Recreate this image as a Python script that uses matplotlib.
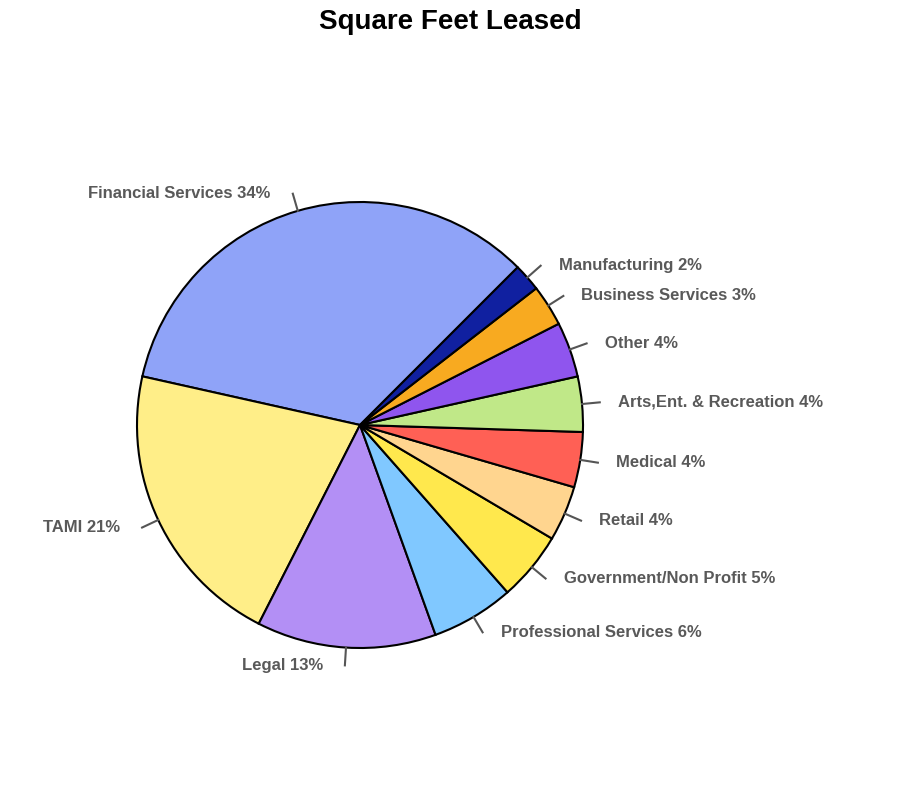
import numpy as np
import matplotlib.pyplot as plt

labels = ["Financial Services", "TAMI", "Legal", "Professional Services",
          "Government/Non Profit", "Retail", "Medical", "Arts,Ent. & Recreation",
          "Other", "Business Services", "Manufacturing"]
values = [34, 21, 13, 6, 5, 4, 4, 4, 4, 3, 2]
colors = ["#8fa3f8", "#ffee88", "#b38ff5", "#80c8ff", "#ffe84d", "#ffd58f",
          "#ff6055", "#c0e888", "#8f55ee", "#f8aa20", "#1020a0"]

plt.rcParams['font.family'] = ['Liberation Sans', 'DejaVu Sans']
fig = plt.figure(figsize=(9, 8), dpi=100)
ax = fig.add_axes([0, 0, 1, 1])
cx, cy, r = 360, 375, 223
wedges, _ = ax.pie(values, colors=colors, startangle=45, counterclock=True,
                   center=(cx, cy), radius=r, frame=True,
                   wedgeprops=dict(edgecolor="black", linewidth=1.5))
ax.set_xlim(0, 900)
ax.set_ylim(0, 800)
ax.set_aspect("equal")
ax.axis("off")

for w, lab, v in zip(wedges, labels, values):
    a = np.deg2rad((w.theta1 + w.theta2) / 2)
    x0, y0 = cx + r * 1.0 * np.cos(a), cy + r * 1.0 * np.sin(a)
    x1, y1 = cx + r * 1.08 * np.cos(a), cy + r * 1.08 * np.sin(a)
    ax.plot([x0, x1], [y0, y1], color="#555555", lw=1.5)
    right = np.cos(a) >= 0
    ax.text(x1 + (18 if right else -22), y1, f"{lab} {v}%",
            ha="left" if right else "right", va="center",
            fontsize=12, fontweight="bold", color="#595959")

fig.text(0.5, 0.972, "Square Feet Leased", ha="center", va="center",
         fontsize=20, fontweight="bold")
fig.savefig("out.png", dpi=100)
